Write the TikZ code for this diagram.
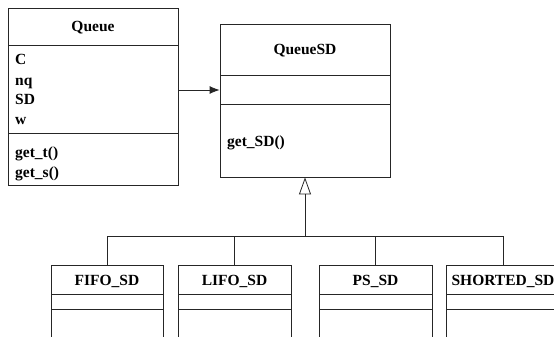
\documentclass[tikz,border=0pt]{standalone}
\usepackage{fontspec}
\setmainfont{Liberation Serif}
\usetikzlibrary{arrows.meta}
\begin{document}
\begin{tikzpicture}[x=1pt,y=-1pt,
  box/.style={draw=black!85,line width=0.8pt,rectangle,inner sep=0pt},
  lbl/.style={font=\fontsize{15.5}{17}\selectfont\bfseries,inner sep=0pt},
  ln/.style={draw=black!85,line width=0.8pt}]
\useasboundingbox (0,0) rectangle (554,337);
\clip (0,0) rectangle (554,337);
% Queue
\node[box,minimum width=170pt,minimum height=177pt] (queue) at (93,96.5) {};
\draw[ln] (8,45) -- (178,45);
\draw[ln] (8,133) -- (178,133);
\node[lbl,anchor=base] (tq) at (93,32) {Queue};
\node[lbl,anchor=base west] (a1) at (15,65) {C};
\node[lbl,anchor=base west] (a2) at (15,85) {nq};
\node[lbl,anchor=base west] (a3) at (15,104) {SD};
\node[lbl,anchor=base west] (a4) at (15,124) {w};
\node[lbl,anchor=base west] (m1) at (15,157) {get\_t()};
\node[lbl,anchor=base west] (m2) at (15,177) {get\_s()};
% QueueSD
\node[box,minimum width=170pt,minimum height=153pt] (queuesd) at (305,100.5) {};
\draw[ln] (220,75) -- (390,75);
\draw[ln] (220,104) -- (390,104);
\node[lbl,anchor=base] (tqsd) at (305,55) {QueueSD};
\node[lbl,anchor=base west] (m3) at (227,146) {get\_SD()};
% association
\coordinate (as) at (178,90);
\draw[ln,-{Latex[length=10pt,width=8pt]}] (as) -- (as -| queuesd.west);
% subclasses
\foreach \n/\cx/\w/\t in {fifo/107/112/FIFO\_SD, lifo/234.5/113/LIFO\_SD, ps/375.5/113/PS\_SD, shorted/503/114/SHORTED\_SD}{
  \node[box,minimum width=\w pt,minimum height=90pt] (\n) at (\cx,310) {};
  \draw[ln] (\cx-\w/2,294) -- (\cx+\w/2,294);
  \draw[ln] (\cx-\w/2,309) -- (\cx+\w/2,309);
  \node[lbl,anchor=base] (t\n) at (\cx,285) {\t};
}
% generalization
\coordinate (bus) at (305,236);
\draw[ln] (fifo.north) |- (lifo.north |- bus) -- (lifo.north);
\draw[ln] (lifo.north |- bus) -- (ps.north |- bus) -- (ps.north);
\draw[ln] (ps.north |- bus) -| (shorted.north);
\draw[ln,-{Triangle[open,length=17pt,width=12pt]}] (bus) -- (queuesd.south);
\end{tikzpicture}
\end{document}
